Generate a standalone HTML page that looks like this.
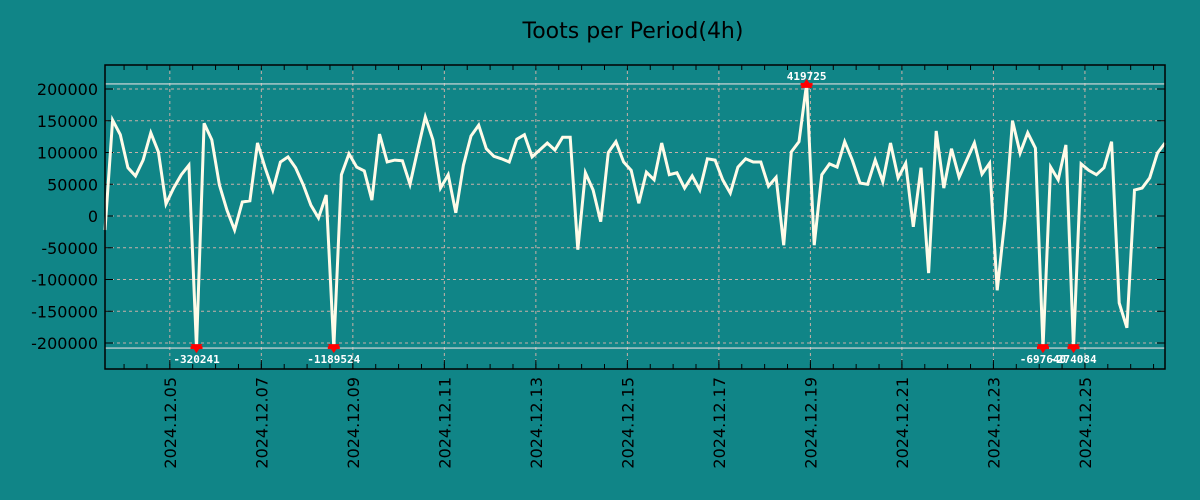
<!DOCTYPE html>
<html><head><meta charset="utf-8"><style>
html,body{margin:0;padding:0;background:#108587;}
svg{display:block;font-family:"DejaVu Sans","Liberation Sans",sans-serif;}
</style></head><body>
<svg id="chart" width="1200" height="500" viewBox="0 0 1200 500" xmlns="http://www.w3.org/2000/svg">
<rect x="0" y="0" width="1200" height="500" fill="#108587"/>
<text x="633" y="38" font-size="22" text-anchor="middle" fill="#000">Toots per Period(4h)</text>
<g id="grid"></g>
<g id="axes"></g>
<g id="series"></g>
<g id="marks"></g>
<rect x="105" y="65" width="1060" height="304" fill="none" stroke="#000" stroke-width="1.5"/>
</svg>
<script>
const startTime = Date.UTC(2024,11,3,14,0);
const periodHours = 4;
const values = [-22000,151000,128000,76000,63000,88000,131000,101000,19000,44000,
65000,80000,-320241,146000,120000,49000,9000,-22000,22000,24000,
115000,76000,41000,85000,93000,76000,49000,17000,-3000,33000,
-1189524,65000,98000,77000,71000,25000,129000,85000,88000,87000,
50000,104000,156000,120000,44000,65000,5000,80000,126000,143000,
106000,94000,90000,85000,121000,128000,93000,104000,115000,104000,
124000,124000,-53000,68000,41000,-9000,100000,117000,85000,72000,
20000,69000,57000,115000,65000,68000,44000,63000,41000,90000,
88000,57000,36000,77000,90000,85000,85000,47000,61000,-46000,
101000,117000,419725,-46000,65000,82000,77000,117000,88000,52000,
50000,88000,54000,115000,60000,83000,-17000,76000,-90000,134000,
44000,106000,61000,88000,115000,66000,83000,-117000,-6000,150000,
99000,131000,107000,-697640,77000,57000,112000,-274084,82000,72000,
65000,76000,117000,-137000,-176000,41000,44000,60000,99000,115000];
const yTicks = [200000,150000,100000,50000,0,-50000,-100000,-150000,-200000];
const xTickLabels = ["2024.12.05","2024.12.07","2024.12.09","2024.12.11","2024.12.13","2024.12.15","2024.12.17","2024.12.19","2024.12.21","2024.12.23","2024.12.25"];
const clipLimit = 208000;

const NS="http://www.w3.org/2000/svg";
const X0=105,X1=1165,Y0=65,Y1=369;
const endTime = startTime + (values.length-1)*periodHours*3600000;
function xScale(t){return X0+(t-startTime)/(endTime-startTime)*(X1-X0);}
function yScale(v){return 216-v*127/200000;}
function mk(tag,attrs,parent){const e=document.createElementNS(NS,tag);for(const k in attrs)e.setAttribute(k,attrs[k]);parent.appendChild(e);return e;}
const grid=document.getElementById('grid'),axes=document.getElementById('axes'),series=document.getElementById('series'),marks=document.getElementById('marks');

yTicks.forEach(v=>{
  const y=yScale(v);
  const g=mk('line',{x1:X0,x2:X1,y1:y,y2:y,stroke:'#c8b0a8','stroke-width':1,'stroke-dasharray':'3,3'},grid);
  
  
  const t1=mk('line',{x1:X0,x2:X0+8,y1:y,y2:y,stroke:'#000','stroke-width':1},axes);
  
  
  const t2=mk('line',{x1:X1-8,x2:X1,y1:y,y2:y,stroke:'#000','stroke-width':1},axes);
  
  
  const tx=mk('text',{x:98,y:y+6,'font-size':16,'text-anchor':'end',fill:'#000'},axes);
  tx.textContent=String(v);
  
  
});
// minor ticks every 12h
for(let t=Date.UTC(2024,11,4,0);t<=endTime;t+=12*3600000){
  const x=xScale(t); if(x<X0||x>X1) continue;
  const a=mk('line',{x1:x,x2:x,y1:Y0,y2:Y0+5,stroke:'#000'},axes);
  
  
  const b=mk('line',{x1:x,x2:x,y1:Y1-5,y2:Y1,stroke:'#000'},axes);
  
  
}
xTickLabels.forEach(lbl=>{
  const p=lbl.split('.');
  const x=xScale(Date.UTC(+p[0],+p[1]-1,+p[2]));
  const g=mk('line',{x1:x,x2:x,y1:Y0,y2:Y1,stroke:'#c8b0a8','stroke-width':1,'stroke-dasharray':'3,3'},grid);
  
  
  const a=mk('line',{x1:x,x2:x,y1:Y1-9,y2:Y1,stroke:'#000'},axes);
  
  
  const tx=mk('text',{x:0,y:0,'font-size':16,'text-anchor':'end',fill:'#000',transform:`translate(${x+6},377) rotate(-90)`},axes);
  tx.textContent=lbl;
  
  
});
[clipLimit,-clipLimit].forEach(v=>{
  const l=mk('line',{x1:X0,x2:X1,y1:yScale(v),y2:yScale(v),stroke:'#ddd','stroke-width':1.2},grid);
  
  
});
const pts=values.map((v,i)=>{
  const c=Math.max(-clipLimit,Math.min(clipLimit,v));
  return [xScale(startTime+i*periodHours*3600000),yScale(c)];
});
const path=mk('polyline',{points:pts.map(p=>p[0].toFixed(1)+','+p[1].toFixed(1)).join(' '),fill:'none',stroke:'#fffbe8','stroke-width':3,'stroke-linejoin':'miter'},series);


values.forEach((v,i)=>{
  if(Math.abs(v)<=clipLimit) return;
  const [x,y]=pts[i];
  const up=v>0;
  const tri=mk('polygon',{points:up?`${x-6},${y+4} ${x+6},${y+4} ${x},${y-5}`:`${x-6},${y-4} ${x+6},${y-4} ${x},${y+5}`,fill:'#f00'},marks);
  
  
  const r=mk('rect',{x:x-6,y:up?y-1:y-2,width:12,height:3,fill:'#f00'},marks);
  
  
  const tx=mk('text',{x:x,y:up?y-4:y+15,'font-size':11,'font-weight':'bold','text-anchor':'middle',fill:'#fff','font-family':'DejaVu Sans Mono, Liberation Mono, monospace'},marks);
  tx.textContent=String(v);
  
  
});
</script>
</body></html>
